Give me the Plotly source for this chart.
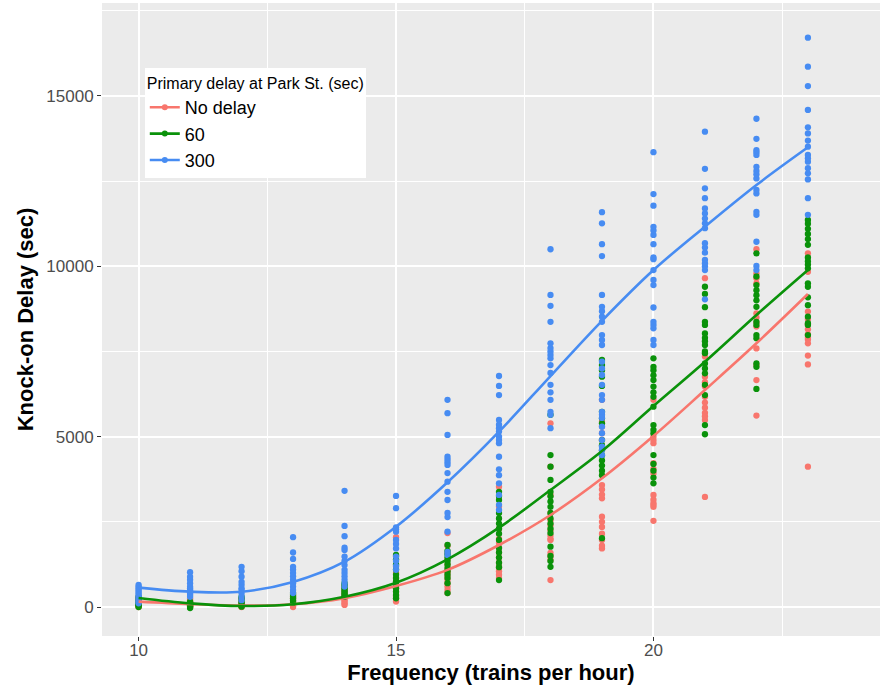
import plotly.graph_objects as go

# Train frequencies tested (trains per hour)
FREQS = list(range(10, 24))

# Knock-on delay (sec) observed at each frequency, one inner list per frequency
NO_DELAY = [
    [0, 20, 40, 60, 80, 100, 130, 160, 200, 250, 300, 50, 90, 120],
    [0, 20, 40, 60, 90, 120, 150, 200, 250, 30, 70],
    [0, 10, 30, 50, 80, 100, 150, 200, 250, 20],
    [0, 30, 60, 100, 150, 200, 250, 300, 350],
    [60, 100, 150, 200, 250, 300, 350, 400, 450, 500, 600],
    [160, 250, 350, 450, 550, 650, 750, 850, 1000, 1200, 1500, 2050, 300, 600],
    [410, 500, 600, 700, 800, 900, 1000, 1100, 1250, 1400, 1600, 1800, 2170, 1050],
    [850, 950, 1050, 1150, 1300, 1450, 1600, 1750, 1880, 2000, 2300, 2950, 3530, 1200],
    [790, 1380, 1500, 1590, 1970, 2100, 2250, 2400, 2550, 2760, 3290, 4120, 5390, 2000],
    [1720, 1970, 2150, 2350, 2500, 2650, 3190, 3300, 3450, 3580, 4900, 5100, 5300, 5440, 6080, 1800],
    [2530, 2940, 3050, 3150, 3290, 3920, 4050, 4220, 4810, 4900, 5000, 6080, 3000],
    [3230, 5490, 5700, 5850, 6000, 6170, 6470, 6600, 6760, 7350, 9650, 5600],
    [5620, 6660, 7100, 7590, 8230, 8350, 8500, 8620, 9500, 9650, 9790, 10500],
    [4120, 7120, 7380, 7740, 7850, 8000, 8150, 8300, 8450, 8670, 9840, 10380, 7900],
]

DELAY_60 = [
    [0, 30, 60, 100, 150, 200, 250, 300, 80],
    [-30, 0, 40, 80, 120, 160, 50],
    [10, 40, 80, 130, 180, 250, 300],
    [120, 180, 250, 300, 350, 410],
    [300, 350, 400, 450, 500, 550, 600, 650, 700],
    [255, 350, 450, 550, 650, 750, 850, 950, 1100, 1250, 1400, 1530],
    [410, 700, 850, 950, 1050, 1150, 1250, 1350, 1450, 1550, 1650, 1820],
    [790, 1170, 1300, 1450, 1600, 1730, 1970, 2150, 2300, 2450, 2600, 2760, 3140, 3260, 3380],
    [1180, 1350, 1500, 1770, 2170, 2300, 2450, 2600, 2760, 2940, 3100, 3250, 3380, 3730, 4120, 4460, 5640],
    [2020, 3870, 4000, 4150, 4300, 4450, 4600, 4750, 4900, 5390, 5540, 5730, 6490, 6760, 6950, 7100, 7250],
    [3630, 3800, 4000, 4200, 4460, 5100, 5200, 5340, 5880, 6170, 6300, 6470, 6660, 6800, 6950, 7050, 7300],
    [5070, 5340, 6220, 6520, 6860, 7000, 7150, 7450, 7500, 7690, 7800, 7900, 8030, 8280, 8370, 8800, 9190, 9400],
    [6400, 7050, 7150, 7890, 7980, 8280, 8370, 8810, 9000, 9150, 9300, 9450, 9700, 10380],
    [7980, 8280, 8330, 8520, 8860, 9090, 9400, 9500, 9940, 10050, 10150, 10260, 10630, 10800, 10950, 11100, 11250, 11360],
]

DELAY_300 = [
    [110, 150, 200, 250, 300, 350, 400, 450, 500, 550, 600, 650],
    [300, 350, 400, 450, 500, 550, 600, 700, 800, 890, 1020],
    [200, 300, 400, 500, 550, 650, 740, 890, 1050, 1180],
    [410, 500, 600, 700, 800, 900, 1000, 1100, 1180, 1410, 1600, 2050],
    [600, 700, 800, 900, 1000, 1090, 1230, 1350, 1480, 1670, 1740, 2080, 2380, 3410],
    [1090, 1200, 1350, 1480, 1720, 1850, 1970, 2210, 2280, 2340, 2900, 3260],
    [1530, 1620, 2210, 2640, 2760, 3140, 3380, 3680, 3930, 4170, 4250, 4330, 4410, 5050, 5690, 6080],
    [2850, 3000, 3290, 3630, 3870, 4040, 4410, 4810, 4900, 5000, 5150, 5250, 5350, 5490, 6220, 6490, 6780],
    [5250, 5640, 5730, 6080, 6300, 6520, 6870, 7100, 7300, 7400, 7500, 7600, 7740, 8370, 8840, 9160, 10500],
    [4460, 4610, 4710, 4900, 5100, 5290, 5550, 5640, 5730, 6080, 6220, 6520, 6810, 7000, 7200, 7690, 7840,
     7980, 8370, 8520, 8680, 8810, 9160, 10300, 10650, 11260, 11590],
    [7690, 7840, 8180, 8280, 8370, 8790, 9450, 9600, 9890, 10210, 10260, 10650, 10920, 11050, 11160, 11780,
     12120, 13350],
    [9030, 9890, 10000, 10090, 10190, 10400, 10550, 10680, 11120, 11260, 11400, 11550, 11700, 12000, 12290,
     12860, 13950],
    [9890, 10010, 10720, 11510, 11600, 12140, 12240, 12580, 12700, 12800, 12920, 13270, 13350, 13410, 13740,
     14330],
    [11510, 12000, 12550, 12730, 12880, 13070, 13170, 13270, 13510, 13690, 13900, 14080, 14590, 15290, 15860,
     16710],
]

# Smoothed trend of each group, evaluated at every frequency
TREND_NO_DELAY = [157, 88, 40, 80, 260, 616, 1090, 1820, 2700, 3777, 5019, 6369, 7740, 9187]
TREND_60 = [265, 108, 30, 83, 303, 714, 1400, 2328, 3434, 4579, 5900, 7200, 8570, 9891]
TREND_300 = [570, 450, 450, 735, 1330, 2357, 3660, 5146, 6780, 8400, 9890, 11163, 12386, 13493]

GROUPS = ["No delay", "60", "300"]
COLORS = ["#F8766D", "#0A920A", "#478CF2"]

FONT = "Liberation Sans, Arial, sans-serif"

fig = go.Figure()

series = [NO_DELAY, DELAY_60, DELAY_300]
trends = [TREND_NO_DELAY, TREND_60, TREND_300]

# Raw observations
for name, color, values in zip(GROUPS, COLORS, series):
    xs, ys = [], []
    for f, col in zip(FREQS, values):
        xs.extend([f] * len(col))
        ys.extend(col)
    fig.add_trace(go.Scatter(
        x=xs, y=ys, mode="markers", name=name, legendgroup=name, showlegend=False,
        marker=dict(color=color, size=6.3, line=dict(width=0)),
        hoverinfo="x+y",
    ))

# Smoothed trend lines
for name, color, trend in zip(GROUPS, COLORS, trends):
    fig.add_trace(go.Scatter(
        x=FREQS, y=trend, mode="lines", name=name, legendgroup=name, showlegend=False,
        line=dict(color=color, width=2.6, shape="spline", smoothing=1.0),
    ))

# Legend keys (line + point)
for name, color in zip(GROUPS, COLORS):
    fig.add_trace(go.Scatter(
        x=[None], y=[None], mode="lines+markers", name=name, legendgroup=name,
        line=dict(color=color, width=2.6), marker=dict(color=color, size=6),
    ))

tick_font = dict(family=FONT, size=17, color="#4D4D4D")
title_font = dict(family=FONT, size=22, color="black")

fig.update_layout(
    width=883, height=686,
    margin=dict(l=102, r=3, t=3, b=50),
    paper_bgcolor="white",
    plot_bgcolor="#EBEBEB",
    showlegend=True,
    legend=dict(
        title=dict(text="Primary delay at Park St. (sec)", font=dict(family=FONT, size=16, color="black")),
        font=dict(family=FONT, size=18, color="black"),
        bgcolor="white", borderwidth=0,
        x=0.055, y=0.897, xanchor="left", yanchor="top",
        tracegroupgap=0, itemwidth=30,
    ),
    xaxis=dict(
        range=[9.289, 24.40], tickvals=[10, 15, 20], ticktext=["10", "15", "20"],
        showgrid=True, gridcolor="white", gridwidth=1.6,
        minor=dict(tickvals=[12.5, 17.5, 22.5], showgrid=True, gridcolor="white", gridwidth=0.8),
        zeroline=False, showline=False,
        ticks="outside", ticklen=4, tickwidth=1.1, tickcolor="#333333",
        tickfont=tick_font, ticklabelstandoff=-5,
        title=dict(text="<b>Frequency (trains per hour)</b>", font=title_font, standoff=0),
    ),
    yaxis=dict(
        range=[-851, 17728], tickvals=[0, 5000, 10000, 15000],
        ticktext=["0", "5000", "10000", "15000"],
        showgrid=True, gridcolor="white", gridwidth=1.6,
        minor=dict(tickvals=[2500, 7500, 12500, 17500], showgrid=True, gridcolor="white", gridwidth=0.8),
        zeroline=False, showline=False,
        ticks="outside", ticklen=4, tickwidth=1.1, tickcolor="#333333",
        tickfont=tick_font,
        title=dict(text="<b>Knock-on Delay (sec)</b>", font=title_font, standoff=6),
    ),
)

fig.write_html("out.html")
